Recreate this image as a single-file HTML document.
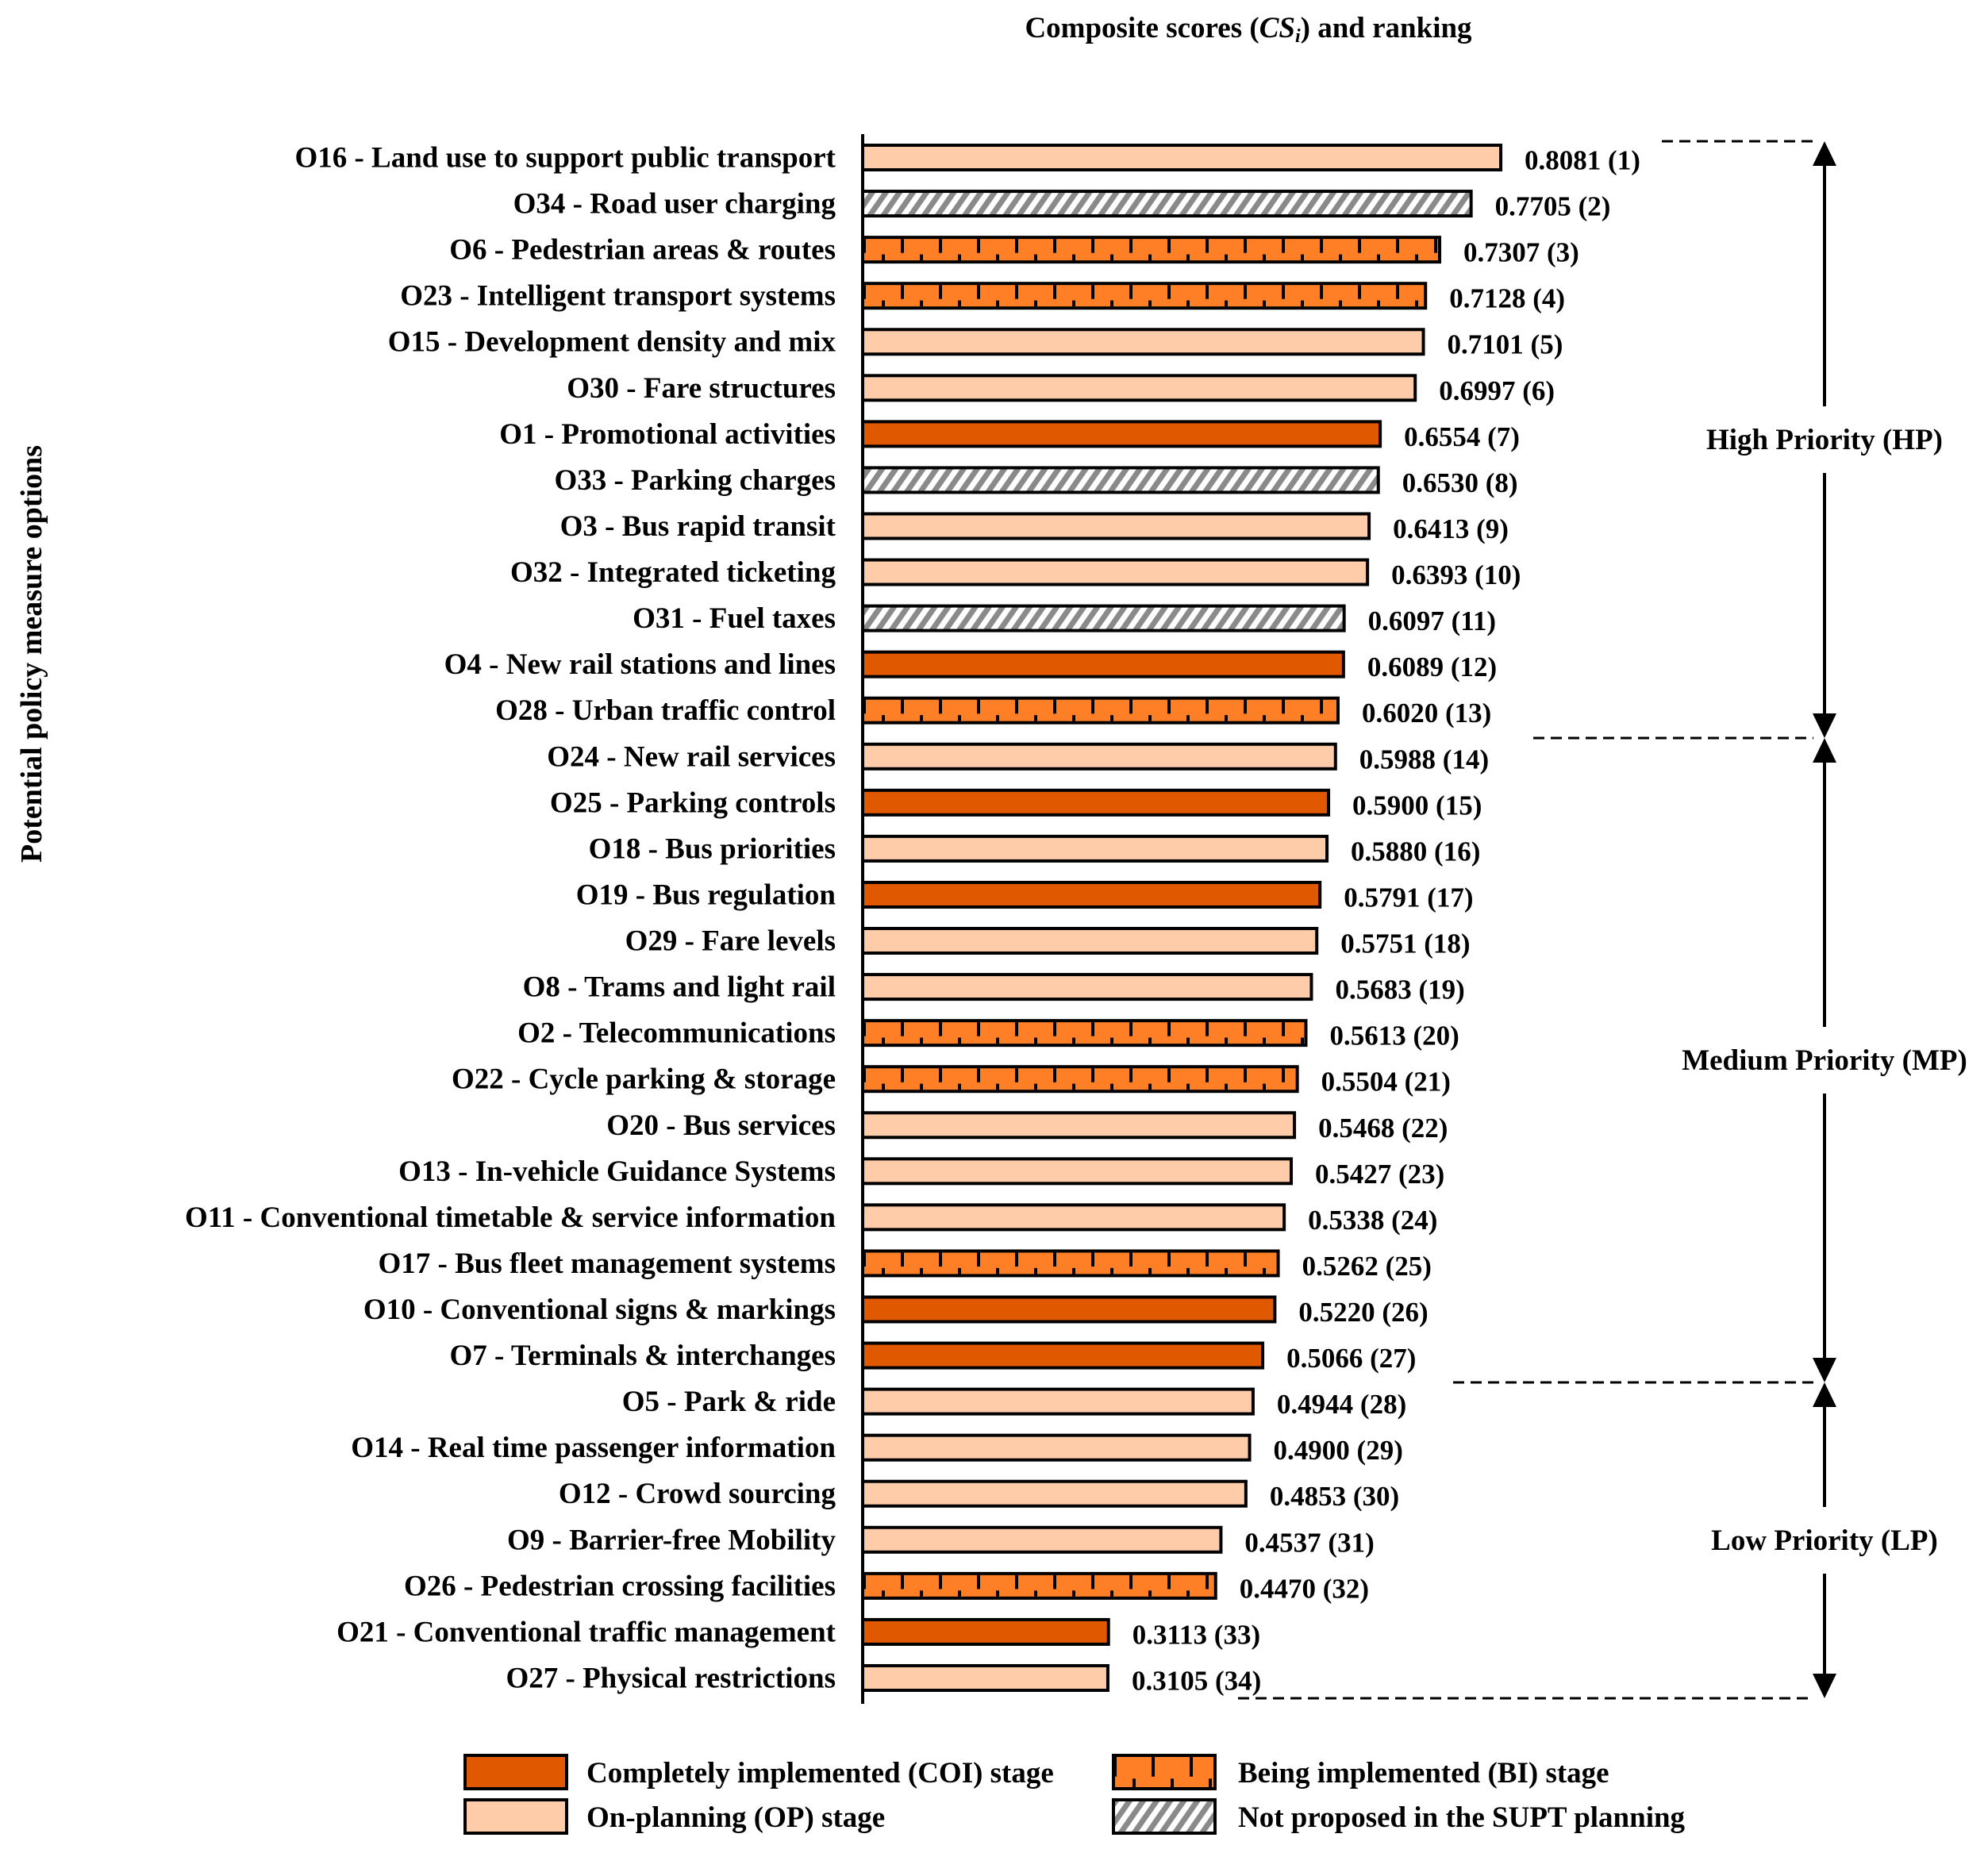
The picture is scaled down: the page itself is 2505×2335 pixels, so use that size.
<!DOCTYPE html>
<html><head><meta charset="utf-8"><style>
html,body{margin:0;padding:0;background:#fff}
svg{display:block}
text{font-family:"Liberation Serif",serif;font-weight:bold;fill:#000}
</style></head><body>
<svg id="chart" width="2505" height="2335" viewBox="0 0 2505 2335" xmlns="http://www.w3.org/2000/svg">
<defs>
<pattern id="pNP" patternUnits="userSpaceOnUse" width="14" height="14" patternTransform="rotate(35)">
<rect width="14" height="14" fill="#fff"/><rect width="7" height="14" fill="#8a8a8a"/>
</pattern>
</defs>
<text x="1573" y="47" font-size="37" text-anchor="middle">Composite scores (<tspan font-style="italic">CS</tspan><tspan font-style="italic" font-size="24" dy="6">i</tspan><tspan dy="-6">) and ranking</tspan></text>
<text transform="translate(52,824) rotate(-90)" font-size="38" text-anchor="middle">Potential policy measure options</text>
<g id="bars"></g>
<line x1="1087" y1="169" x2="1087" y2="2147" stroke="#000" stroke-width="4"/>
<g id="annot"></g>
<g id="legend"></g>
</svg>
<script>
const labels=["O16 - Land use to support public transport","O34 - Road user charging","O6 - Pedestrian areas & routes","O23 - Intelligent transport systems","O15 - Development density and mix","O30 - Fare structures","O1 - Promotional activities","O33 - Parking charges","O3 - Bus rapid transit","O32 - Integrated ticketing","O31 - Fuel taxes","O4 - New rail stations and lines","O28 - Urban traffic control","O24 - New rail services","O25 - Parking controls","O18 - Bus priorities","O19 - Bus regulation","O29 - Fare levels","O8 - Trams and light rail","O2 - Telecommunications","O22 - Cycle parking & storage","O20 - Bus services","O13 - In-vehicle Guidance Systems","O11 - Conventional timetable & service information","O17 - Bus fleet management systems","O10 - Conventional signs & markings","O7 - Terminals & interchanges","O5 - Park & ride","O14 - Real time passenger information","O12 - Crowd sourcing","O9 - Barrier-free Mobility","O26 - Pedestrian crossing facilities","O21 - Conventional traffic management","O27 - Physical restrictions"];
const values=[0.8081,0.7705,0.7307,0.7128,0.7101,0.6997,0.6554,0.6530,0.6413,0.6393,0.6097,0.6089,0.6020,0.5988,0.5900,0.5880,0.5791,0.5751,0.5683,0.5613,0.5504,0.5468,0.5427,0.5338,0.5262,0.5220,0.5066,0.4944,0.4900,0.4853,0.4537,0.4470,0.3113,0.3105];
const stages=["OP","NP","BI","BI","OP","OP","COI","NP","OP","OP","NP","COI","BI","OP","COI","OP","COI","OP","OP","BI","BI","OP","OP","OP","BI","COI","COI","OP","OP","OP","OP","BI","COI","OP"];
const legendKeys=["COI","BI","OP","NP"];
const legendText=["Completely implemented (COI) stage","Being implemented (BI) stage","On-planning (OP) stage","Not proposed in the SUPT planning"];
const groupNames=["High Priority (HP)","Medium Priority (MP)","Low Priority (LP)"];

const NS="http://www.w3.org/2000/svg";
const X0=1087,SCALE=995,Y0=183,STEP=58.06,BH=31;
const xS=v=>X0+v*SCALE;
const yS=i=>Y0+i*STEP;
const fills={COI:"#E05800",OP:"#FFCCAA",BI:"#FF7F27",NP:"url(#pNP)"};
function mk(tag,attrs,parent){const e=document.createElementNS(NS,tag);for(const k in attrs)e.setAttribute(k,attrs[k]);parent.appendChild(e);return e;}
function biTicks(parent,x1,x2,y,h){
  for(let x=x1+2;x<x2-4;x+=48){
    const t=mk("line",{x1:x,y1:y,x2:x,y2:y+h*0.65,stroke:"#000","stroke-width":4},parent);
    
    
    if(x+24<x2-4){const s=mk("line",{x1:x+24,y1:y+h*0.72,x2:x+24,y2:y+h,stroke:"#000","stroke-width":4},parent);
    
    }
  }
}
const gb=document.getElementById("bars");
values.forEach((v,i)=>{
  const y=yS(i),xe=xS(v);
  const r=mk("rect",{x:X0,y:y,width:xe-X0,height:BH,fill:fills[stages[i]],stroke:"#000","stroke-width":4},gb);
  
  
  if(stages[i]==="BI")biTicks(gb,X0,xe,y+2,BH-4);
  const lt=mk("text",{x:1053,y:y+BH/2+12,"font-size":37,"text-anchor":"end"},gb);
  lt.textContent=labels[i];
  
  
  const vt=mk("text",{x:xe+30,y:y+BH/2+15,"font-size":35},gb);
  vt.textContent=v.toFixed(4)+" ("+(i+1)+")";
  
  
});
const ga=document.getElementById("annot");
const AX=2299;
const bounds=[178,930,1742,2140];
const dashStart=[2094,1932,1831,1560];
bounds.forEach((b,k)=>{
  const d=mk("line",{x1:dashStart[k],y1:b,x2:2285,y2:b,stroke:"#000","stroke-width":3,"stroke-dasharray":"14 8"},ga);
  
  
});
groupNames.forEach((g,k)=>{
  const top=bounds[k],bot=bounds[k+1],mid=(top+bot)/2;
  const l1=mk("line",{x1:AX,y1:top+28,x2:AX,y2:mid-42,stroke:"#000","stroke-width":4},ga);
  
  
  const l2=mk("line",{x1:AX,y1:mid+42,x2:AX,y2:bot-28,stroke:"#000","stroke-width":4},ga);
  
  
  const a1=mk("polygon",{points:`${AX},${top} ${AX-15},${top+31} ${AX+15},${top+31}`,fill:"#000"},ga);
  
  
  const a2=mk("polygon",{points:`${AX},${bot} ${AX-15},${bot-31} ${AX+15},${bot-31}`,fill:"#000"},ga);
  
  
  const t=mk("text",{x:AX,y:mid+12,"font-size":37,"text-anchor":"middle"},ga);
  t.textContent=g;
  
  
});
const gl=document.getElementById("legend");
const lx=[586,1403],ly=[2212,2268],tx=[739,1560];
legendKeys.forEach((k,i)=>{
  const col=i%2,row=Math.floor(i/2);
  const r=mk("rect",{x:lx[col],y:ly[row],width:128,height:42,fill:fills[k],stroke:"#000","stroke-width":4},gl);
  
  
  if(k==="BI")biTicks(gl,lx[col],lx[col]+128,ly[row]+2,38);
  const t=mk("text",{x:tx[col],y:ly[row]+34,"font-size":37},gl);
  t.textContent=legendText[i];
  
  
});
</script>
</body></html>
